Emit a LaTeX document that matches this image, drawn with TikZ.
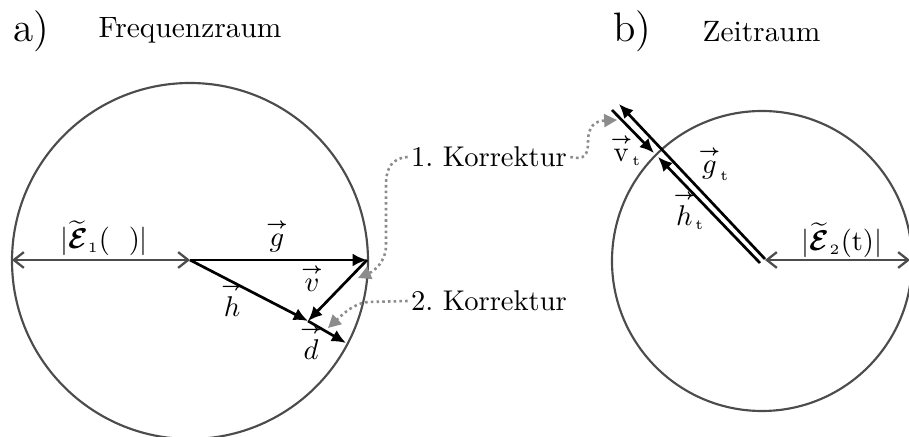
\documentclass[tikz,border=0pt]{standalone}
\usepackage{amsmath}
\usetikzlibrary{arrows.meta}
\newcommand{\vek}[1]{\overset{\scriptscriptstyle\boldsymbol{\rightarrow}}{#1}}
\begin{document}
\begin{tikzpicture}[x=0.35pt,y=-0.35pt,
        kreis/.style={draw=black!70, line width=0.75pt},
        betrag/.style={draw=black!70, line width=0.8pt, {Straight Barb[length=3.5pt,width=5.5pt]}-{Straight Barb[length=3.5pt,width=5.5pt]}},
        vektor/.style={draw=black, line width=0.95pt, -{Latex[length=5pt,width=4.5pt]}},
        korr/.style={draw=black!45, line width=0.9pt, dash pattern=on 0.9pt off 1.1pt, -{Triangle[length=4.5pt,width=4.5pt]}},
        lbl/.style={inner sep=1pt}]
    \useasboundingbox (0,0) rectangle (909,437);
    % titles
    \node[anchor=base west, font=\Large, inner sep=0pt] (ta) at (13,42) {a)};
    \node[anchor=base west, inner sep=0pt, font=\fontsize{10.3}{12}\selectfont] (fr) at (98,38) {Frequenzraum};
    \node[anchor=base west, font=\Large, inner sep=0pt] (tb) at (613,42) {b)};
    \node[anchor=base west, inner sep=0pt, font=\fontsize{10.3}{12}\selectfont] (zr) at (702,42) {Zeitraum};
    % a) Frequenzraum
    \draw[kreis] (190,261) circle[radius=178];
    \coordinate (m1) at (190,260);
    \coordinate (l1) at (12,260);
    \coordinate (g1) at (367,260);
    \coordinate (hd) at (308,321);
    \coordinate (d1) at (346,343);
    \draw[betrag] (l1) -- (m1);
    \draw[vektor] (m1) -- (g1);
    \draw[vektor] (g1) -- (hd);
    \draw[vektor] (m1) -- (hd);
    \draw[vektor] (hd) -- (d1);
    \node[lbl] (e1) at (104,238) {$|\widetilde{\boldsymbol{\mathcal{E}}}_{\scriptscriptstyle 1}(\phantom{\omega})|$};
    \node[lbl] (lg) at (277,236) {$\vek{g}$};
    \node[lbl] (lv) at (312,278) {$\vek{v}$};
    \node[lbl] (lh) at (232,299) {$\vek{h}$};
    \node[lbl] (ld) at (311,342) {$\vek{d}$};
    % b) Zeitraum
    \draw[kreis] (762,261) circle[radius=150];
    \coordinate (m2) at (765,260);
    \coordinate (r2) at (910,260);
    \coordinate (gt0) at (765,259);
    \coordinate (gt1) at (619,104);
    \coordinate (ht0) at (760,263);
    \coordinate (ht1) at (658,157);
    \coordinate (vt0) at (612,110);
    \coordinate (vt1) at (654,153);
    \draw[betrag] (m2) -- (r2);
    \draw[vektor] (gt0) -- (gt1);
    \draw[vektor] (ht0) -- (ht1);
    \draw[vektor] (vt0) -- (vt1);
    \node[lbl] (lvt) at (626,150) {$\vek{\mathrm{v}}_{\scriptscriptstyle\mathrm{t}}$};
    \node[lbl] (lgt) at (714,164) {$\vek{g}_{\scriptscriptstyle\mathrm{t}}$};
    \node[lbl] (lht) at (689,210) {$\vek{h}_{\scriptscriptstyle\mathrm{t}}$};
    \node[lbl] (e2) at (842,240) {$|\widetilde{\boldsymbol{\mathcal{E}}}_{\scriptscriptstyle 2}(\mathrm{t})|$};
    % Korrekturen
    \node[lbl] (k1) at (489,157) {1.\ Korrektur};
    \node[lbl] (k2) at (489,301) {2.\ Korrektur};
    \coordinate (k1a) at (358,278);
    \coordinate (k1b) at (617,120);
    \coordinate (k2a) at (328,328);
    \draw[korr] (k1.west) .. controls (392,158) and (386,168) .. (386,185) -- (386,245)
        .. controls (386,262) and (374,271) .. (k1a);
    \draw[korr] (k1.east) .. controls (584,160) and (588,156) .. (588,142)
        .. controls (588,126) and (595,121) .. (k1b);
    \draw[korr] (k2.west) -- (368,302) .. controls (355,303) and (344,313) .. (k2a);
\end{tikzpicture}
\end{document}
